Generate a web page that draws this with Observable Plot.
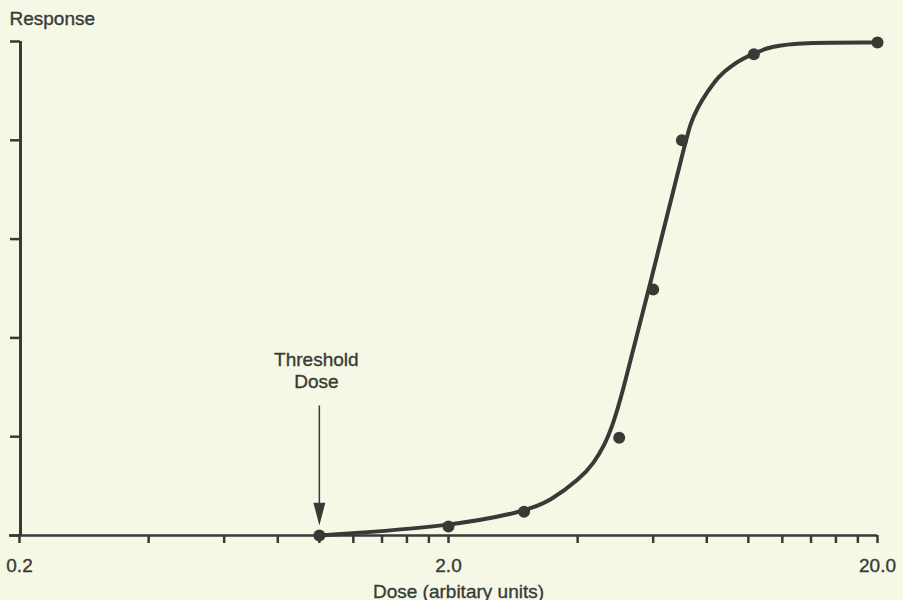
<!DOCTYPE html>
<html>
<head>
<meta charset="utf-8">
<script src="https://cdn.jsdelivr.net/npm/d3@7"></script>
<script src="https://cdn.jsdelivr.net/npm/@observablehq/plot@0.6"></script>
<style>
  html, body { margin: 0; padding: 0; background: #f6f8e6; }
  #chart { width: 903px; height: 600px; overflow: hidden; }
</style>
</head>
<body>
<div id="chart"></div>
<script>
// Measured points (dose in arbitrary units, response in tick units 0..5)
const doses = [1.0, 2.0, 3.0, 5.0, 6.0, 7.0, 10.3, 20.0];
const responses = [0, 0.09, 0.24, 0.99, 2.49, 4.0, 4.87, 4.99];

// Hand-drawn fitted curve
const curveDoses = [1.0, 2.0, 3.0, 3.46, 4.06, 4.36, 4.64, 4.81, 5.04, 5.85, 7.14, 7.33, 7.60, 8.02, 8.53, 9.09, 9.76, 10.25, 11.26, 13.2, 20.0];
const curveResponses = [0, 0.09, 0.24, 0.35, 0.58, 0.73, 0.93, 1.10, 1.37, 2.48, 3.99, 4.17, 4.325, 4.49, 4.65, 4.75, 4.83, 4.875, 4.95, 4.99, 4.99];

// Axis ticks and labels
const xTicks = [0.2, 0.4, 0.6, 0.8, 1.0, 1.2, 1.4, 1.6, 1.8, 2.0, 4, 6, 8, 10, 12, 14, 16, 18, 20];
const xTickLabels = [0.2, 2.0, 20.0];
const yTicks = [0, 1, 2, 3, 4, 5];
const thresholdDose = [1.0];
const thresholdLabel = "Threshold\nDose";
const yTitle = "Response";
const xTitle = "Dose (arbitary units)";

const ink = "#363b36";
const bg = "#f6f8e6";
const fs = 19;

const points = doses.map((d, i) => ({dose: d, response: responses[i]}));
const curve = curveDoses.map((d, i) => ({dose: d, response: curveResponses[i]}));

// arrow glyph: shaft plus filled head, tip at the origin
const arrowSymbol = {
  draw(context) {
    context.moveTo(0, -117);
    context.lineTo(0, -18);
    context.moveTo(-5, -19);
    context.lineTo(5, -19);
    context.lineTo(0, 0);
    context.closePath();
  }
};

const textStyle = {fontSize: fs, fill: ink, stroke: ink, strokeWidth: 0.35};

const chart = Plot.plot({
  width: 903,
  height: 600,
  marginLeft: 19,
  marginRight: 26,
  marginTop: 41,
  marginBottom: 65,
  x: {type: "log", domain: [0.2, 20], axis: null},
  y: {domain: [0, 5], axis: null},
  style: {background: bg, color: ink, fontFamily: "'Liberation Sans', Arial, sans-serif", fontSize: fs + "px"},
  marks: [
    Plot.ruleX([0.2], {y1: 0, y2: 5, dx: 1, stroke: ink, strokeWidth: 3}),
    Plot.ruleY([0], {insetLeft: -10, stroke: ink, strokeWidth: 2.5}),
    Plot.axisX({ticks: xTicks, tickSize: 8, tickFormat: () => "", label: null, stroke: ink, strokeWidth: 2.5}),
    Plot.axisY({ticks: yTicks, tickSize: 10, tickFormat: () => "", label: null, dx: 1, stroke: ink, strokeWidth: 2.5}),
    Plot.text(xTickLabels, {x: d => d, y: 0, text: d => d.toFixed(1), dy: 30, ...textStyle}),
    Plot.line(curve, {x: "dose", y: "response", curve: "basis", stroke: ink, strokeWidth: 4}),
    Plot.dot(points, {x: "dose", y: "response", r: 6, fill: ink}),
    Plot.text(thresholdDose, {x: d => d, y: 0, text: () => thresholdLabel, lineAnchor: "bottom", lineHeight: 1.12, dx: -3, dy: -148, ...textStyle}),
    Plot.dot(thresholdDose, {x: d => d, y: 0, symbol: arrowSymbol, fill: ink, stroke: ink, strokeWidth: 1.5, dy: -13}),
    Plot.text([yTitle], {frameAnchor: "top-left", textAnchor: "start", lineAnchor: "bottom", dx: -10, dy: -17, ...textStyle}),
    Plot.text([xTitle], {frameAnchor: "bottom", lineAnchor: "bottom", dx: 10, dy: 62, ...textStyle})
  ]
});
document.getElementById("chart").appendChild(chart);
</script>
</body>
</html>
